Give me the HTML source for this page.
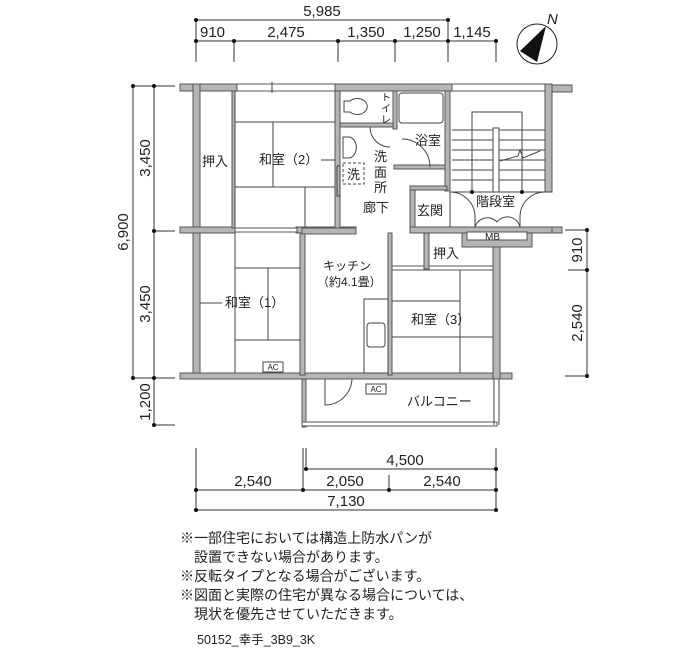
<!DOCTYPE html>
<html><head><meta charset="utf-8"><style>
html,body{margin:0;padding:0;background:#fff;}
svg{display:block;}
text{font-family:"Liberation Sans","Noto Sans CJK JP",sans-serif;fill:#222;}
.w{fill:#b5b5b5;stroke:#555;stroke-width:1;}
.l{stroke:#444;stroke-width:1;fill:none;}
.d{stroke:#333;stroke-width:1;fill:none;}
.note{font-size:14px;}
</style></head><body>
<svg width="700" height="650" viewBox="0 0 700 650" xmlns="http://www.w3.org/2000/svg">
<g class="d">
<line x1="196" y1="20" x2="448" y2="20"/>
<line x1="196" y1="41" x2="496" y2="41"/>
<line x1="196" y1="20" x2="196" y2="62"/>
<line x1="234" y1="41" x2="234" y2="62"/>
<line x1="338" y1="41" x2="338" y2="62"/>
<line x1="395" y1="41" x2="395" y2="62"/>
<line x1="448" y1="20" x2="448" y2="62"/>
<line x1="496" y1="41" x2="496" y2="62"/>
</g>
<g fill="#111">
<circle cx="196" cy="20" r="2"/><circle cx="448" cy="20" r="2"/>
<circle cx="196" cy="41" r="2"/><circle cx="234" cy="41" r="2"/><circle cx="338" cy="41" r="2"/><circle cx="395" cy="41" r="2"/><circle cx="448" cy="41" r="2"/><circle cx="496" cy="41" r="2"/>
</g>
<g font-size="15">
<text x="322" y="16" text-anchor="middle">5,985</text>
<text x="200" y="37">910</text>
<text x="286" y="37" text-anchor="middle">2,475</text>
<text x="366" y="37" text-anchor="middle">1,350</text>
<text x="422" y="37" text-anchor="middle">1,250</text>
<text x="472" y="37" text-anchor="middle">1,145</text>
</g>
<circle cx="537" cy="44" r="20" fill="none" stroke="#222" stroke-width="1"/>
<polygon points="546,26 520,51 537,62" fill="#111"/>
<text x="547" y="24" font-size="15" font-style="italic">N</text>
<g class="d">
<line x1="133" y1="86" x2="133" y2="378"/>
<line x1="154" y1="86" x2="154" y2="425"/>
<line x1="133" y1="86" x2="175" y2="86"/>
<line x1="154" y1="231" x2="175" y2="231"/>
<line x1="133" y1="378" x2="175" y2="378"/>
<line x1="154" y1="425" x2="175" y2="425"/>
</g>
<g fill="#111">
<circle cx="133" cy="86" r="2"/><circle cx="154" cy="86" r="2"/><circle cx="154" cy="231" r="2"/><circle cx="133" cy="378" r="2"/><circle cx="154" cy="378" r="2"/><circle cx="154" cy="425" r="2"/>
</g>
<g font-size="15">
<text transform="translate(128,232) rotate(-90)" text-anchor="middle">6,900</text>
<text transform="translate(150,158) rotate(-90)" text-anchor="middle">3,450</text>
<text transform="translate(150,304) rotate(-90)" text-anchor="middle">3,450</text>
<text transform="translate(150,402) rotate(-90)" text-anchor="middle">1,200</text>
</g>
<g class="d">
<line x1="587" y1="230" x2="587" y2="376"/>
<line x1="565" y1="230" x2="587" y2="230"/>
<line x1="568" y1="270" x2="587" y2="270"/>
<line x1="565" y1="376" x2="587" y2="376"/>
</g>
<g fill="#111"><circle cx="587" cy="230" r="2"/><circle cx="587" cy="270" r="2"/><circle cx="587" cy="376" r="2"/></g>
<g font-size="15">
<text transform="translate(582,250) rotate(-90)" text-anchor="middle">910</text>
<text transform="translate(582,323) rotate(-90)" text-anchor="middle">2,540</text>
</g>
<g class="d">
<line x1="196" y1="448" x2="196" y2="510"/>
<line x1="303" y1="448" x2="303" y2="490"/>
<line x1="306" y1="448" x2="306" y2="470"/>
<line x1="496" y1="448" x2="496" y2="510"/>
<line x1="389" y1="475" x2="389" y2="490"/>
<line x1="306" y1="469" x2="496" y2="469"/>
<line x1="196" y1="490" x2="496" y2="490"/>
<line x1="196" y1="510" x2="496" y2="510"/>
</g>
<g fill="#111"><circle cx="306" cy="469" r="2"/><circle cx="496" cy="469" r="2"/><circle cx="196" cy="490" r="2"/><circle cx="303" cy="490" r="2"/><circle cx="389" cy="490" r="2"/><circle cx="496" cy="490" r="2"/><circle cx="196" cy="510" r="2"/><circle cx="496" cy="510" r="2"/></g>
<g font-size="15">
<text x="405" y="465" text-anchor="middle">4,500</text>
<text x="253" y="486" text-anchor="middle">2,540</text>
<text x="345" y="486" text-anchor="middle">2,050</text>
<text x="442" y="486" text-anchor="middle">2,540</text>
<text x="346" y="506" text-anchor="middle">7,130</text>
</g>

<rect x="302" y="379" width="4" height="48" class="w"/>
<rect x="302" y="422" width="195" height="4" fill="#fff" stroke="#555"/>
<line x1="494" y1="379" x2="494" y2="425" class="l"/>
<line x1="499" y1="379" x2="499" y2="425" class="l"/>
<path d="M325,379 L325,405 A27,27 0 0 0 352,379" class="l"/>
<rect x="180" y="84" width="372" height="7" class="w"/>
<rect x="552" y="85" width="20" height="7" class="w"/>
<rect x="193" y="84" width="7" height="295" class="w"/>
<rect x="180" y="373" width="332" height="6" class="w"/>
<rect x="296" y="227" width="60" height="6" class="w"/>
<rect x="180" y="227" width="55" height="6" class="w"/>
<rect x="235" y="228" width="62" height="4" fill="#fff" stroke="#555"/>
<rect x="237" y="84" width="98" height="7" fill="#fff" stroke="#555"/>
<line x1="272" y1="82" x2="272" y2="93" class="l"/>
<rect x="452" y="84" width="93" height="7" fill="#fff" stroke="#555"/>
<rect x="232" y="91" width="3" height="137" class="w"/>
<rect x="335" y="91" width="5" height="138" class="w"/>
<rect x="340" y="123" width="55" height="4" class="w"/>
<rect x="393" y="91" width="4" height="38" class="w"/>
<rect x="394" y="165" width="53" height="4" class="w"/>
<rect x="445" y="91" width="5" height="100" class="w"/>
<rect x="300" y="233" width="5" height="142" class="w"/>
<rect x="388" y="233" width="4" height="142" class="w"/>
<rect x="302" y="228" width="54" height="6" class="w"/>
<rect x="392" y="266" width="105" height="4" fill="#fff" stroke="#555"/>
<rect x="493" y="233" width="7" height="146" class="w"/>
<rect x="424" y="233" width="5" height="36" class="w"/>
<rect x="410" y="186" width="5" height="45" class="w"/>
<rect x="410" y="186" width="37" height="4" class="w"/>
<rect x="410" y="227" width="152" height="6" class="w"/>
<rect x="545" y="84" width="7" height="108" class="w"/>
<rect x="462" y="233" width="70" height="14" class="w"/>
<rect x="467" y="232" width="60" height="8" fill="#fff" stroke="#555"/>
<rect x="552" y="227" width="10" height="6" class="w"/>
<g class="l">
<line x1="235" y1="122" x2="335" y2="122"/><line x1="235" y1="187" x2="335" y2="187"/>
<line x1="273" y1="122" x2="273" y2="187"/><line x1="305" y1="187" x2="305" y2="227"/>
<line x1="235" y1="91" x2="235" y2="227"/>
<line x1="235" y1="268" x2="300" y2="268"/><line x1="235" y1="340" x2="300" y2="340"/>
<line x1="235" y1="233" x2="235" y2="373"/><line x1="268" y1="268" x2="268" y2="340"/>
<line x1="200" y1="303" x2="222" y2="303"/>
<line x1="392" y1="301" x2="460" y2="301"/><line x1="392" y1="337" x2="493" y2="337"/>
<line x1="460" y1="270" x2="460" y2="373"/>
<line x1="321" y1="160" x2="335" y2="160"/>
<rect x="364" y="299" width="24" height="74"/>
<rect x="367" y="323" width="18" height="24" rx="3"/>
<path d="M344,101 L350,101 A10,8 0 1 1 350,112 L344,112 Z"/>
<path d="M343,137 L350,137 A9,11 0 0 1 350,158 L343,158 Z"/>
<rect x="343" y="163" width="21" height="21" stroke-dasharray="3,2"/>
<rect x="337" y="166" width="3" height="30"/>
<rect x="399" y="93" width="44" height="30" rx="3"/>
<path d="M370,127 A20,20 0 0 0 390,147"/>
<path d="M402,139 A28,28 0 0 1 430,167"/>
<line x1="452" y1="130" x2="545" y2="130"/><line x1="452" y1="140" x2="545" y2="140"/>
<line x1="452" y1="150" x2="545" y2="150"/><line x1="452" y1="160" x2="545" y2="160"/>
<line x1="452" y1="170" x2="545" y2="170"/><line x1="452" y1="180" x2="545" y2="180"/>
<line x1="450" y1="192" x2="552" y2="192"/>
<polyline points="472,192 472,112 522,112 522,192"/>
<rect x="493" y="128" width="6" height="64" fill="#fff"/>
<polyline points="500,161 518,156 520,150 523,158 540,151"/>
<path d="M450,192 A25,25 0 0 1 475,217 L475,227"/>
<path d="M545,192 A25,25 0 0 0 520,217 L520,227"/>
<path d="M475,227 A13,13 0 0 1 497,222 A13,13 0 0 1 520,227"/>
<line x1="450" y1="227" x2="450" y2="192"/>
</g>
<g fill="#111"><circle cx="472" cy="192" r="2"/><circle cx="522" cy="192" r="2"/></g>
<rect x="263" y="362" width="20" height="10" fill="#fff" stroke="#444"/>
<text x="273" y="370" font-size="8" text-anchor="middle">AC</text>
<rect x="366" y="384" width="20" height="10" fill="#fff" stroke="#444"/>
<text x="376" y="392" font-size="8" text-anchor="middle">AC</text>
<g font-size="13">
<text x="202" y="166">押入</text>
<text x="259" y="164">和室（2）</text>
<text x="381" y="101" font-size="10">ト</text>
<text x="381" y="112" font-size="10">イ</text>
<text x="381" y="123" font-size="10">レ</text>
<text x="415" y="145">浴室</text>
<text x="374" y="161">洗</text><text x="374" y="177">面</text><text x="374" y="192">所</text>
<text x="347" y="179">洗</text>
<text x="363" y="212">廊下</text>
<text x="417" y="215">玄関</text>
<text x="476" y="206">階段室</text>
<text x="485" y="240" font-size="10">MB</text>
<text x="433" y="258">押入</text>
<text x="323" y="270" font-size="12">キッチン</text>
<text x="317" y="286" font-size="12">（約4.1畳）</text>
<text x="225" y="307">和室（1）</text>
<text x="411" y="324">和室（3）</text>
<text x="407" y="406">バルコニー</text>
</g>
<g class="note">
<text x="180" y="543">※一部住宅においては構造上防水パンが</text>
<text x="194" y="562">設置できない場合があります。</text>
<text x="180" y="581">※反転タイプとなる場合がございます。</text>
<text x="180" y="600">※図面と実際の住宅が異なる場合については、</text>
<text x="194" y="619">現状を優先させていただきます。</text>
<text x="197" y="644" font-size="12.5">50152_幸手_3B9_3K</text>
</g>
</svg>
</body></html>
